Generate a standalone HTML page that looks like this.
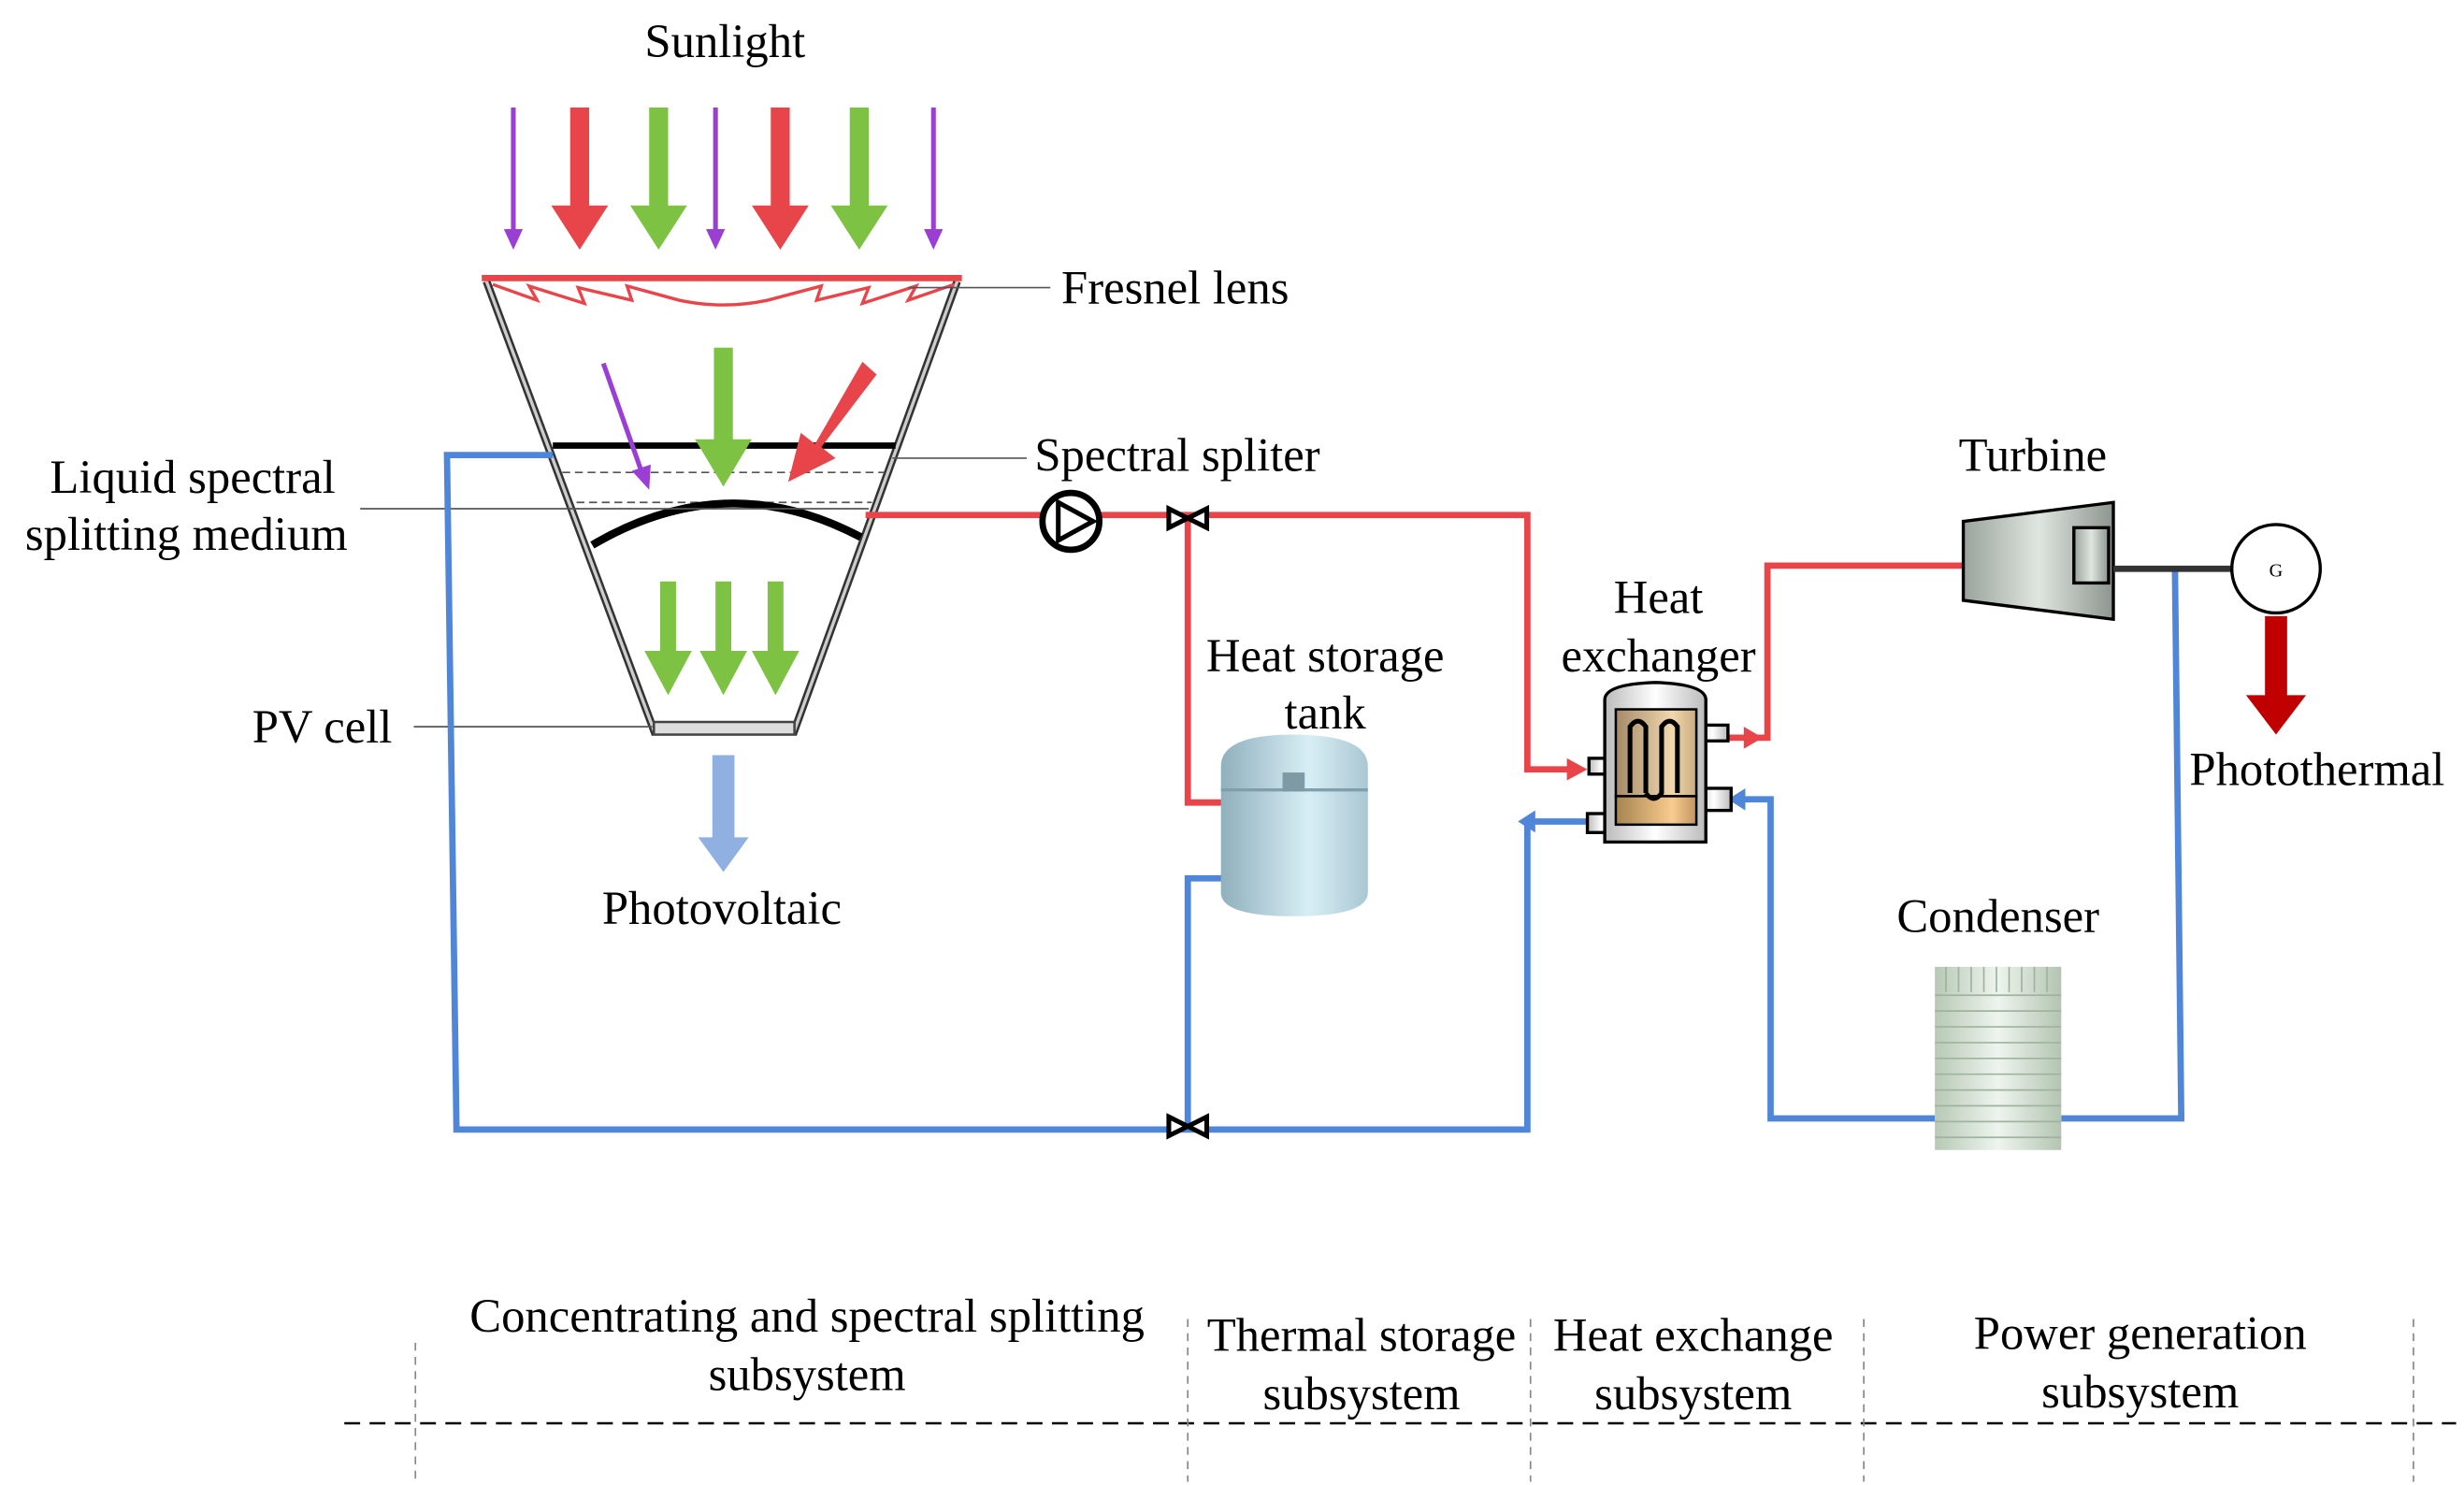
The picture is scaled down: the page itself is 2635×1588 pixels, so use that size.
<!DOCTYPE html>
<html><head><meta charset="utf-8"><style>
html,body{margin:0;padding:0;background:#fff}
svg{display:block}
text{font-family:"Liberation Serif",serif;fill:#000}
</style></head><body>
<svg width="2635" height="1588" viewBox="0 0 1560 940" xmlns="http://www.w3.org/2000/svg">
<defs>
<linearGradient id="tank" x1="0" x2="1"><stop offset="0" stop-color="#8fb0bd"/><stop offset="0.6" stop-color="#d8eef5"/><stop offset="1" stop-color="#a9c7d2"/></linearGradient>
<linearGradient id="turb" x1="0" x2="1"><stop offset="0" stop-color="#9aa39c"/><stop offset="0.5" stop-color="#dfe5df"/><stop offset="1" stop-color="#8d958f"/></linearGradient>
<linearGradient id="cond" x1="0" x2="1"><stop offset="0" stop-color="#b7c9b5"/><stop offset="0.5" stop-color="#eef4ee"/><stop offset="1" stop-color="#b3c5b1"/></linearGradient>
<linearGradient id="hx" x1="0" x2="1"><stop offset="0" stop-color="#a48a68"/><stop offset="0.7" stop-color="#f2d8ae"/><stop offset="1" stop-color="#c9ab80"/></linearGradient>
<linearGradient id="hxb" x1="0" x2="1"><stop offset="0" stop-color="#a6834f"/><stop offset="0.7" stop-color="#f9cc8e"/><stop offset="1" stop-color="#c09662"/></linearGradient>
<linearGradient id="grey" x1="0" x2="1"><stop offset="0" stop-color="#bbb"/><stop offset="0.5" stop-color="#fff"/><stop offset="1" stop-color="#bbb"/></linearGradient>
</defs>

<text x="459" y="36" font-size="30" text-anchor="middle">Sunlight</text>
<g>
<path d="M325,68V148" stroke="#9b3fd4" stroke-width="3"/><path d="M319,145L325,158L331,145z" fill="#9b3fd4"/>
<path d="M453,68V148" stroke="#9b3fd4" stroke-width="3"/><path d="M447,145L453,158L459,145z" fill="#9b3fd4"/>
<path d="M591,68V148" stroke="#9b3fd4" stroke-width="3"/><path d="M585,145L591,158L597,145z" fill="#9b3fd4"/>
<path d="M361,68h12v62h12l-18,28l-18,-28h12z" fill="#e8454a"/>
<path d="M488,68h12v62h12l-18,28l-18,-28h12z" fill="#e8454a"/>
<path d="M411,68h12v62h12l-18,28l-18,-28h12z" fill="#7dc242"/>
<path d="M538,68h12v62h12l-18,28l-18,-28h12z" fill="#7dc242"/>
</g>
<path d="M308,178L415,465M606,178L502,465" stroke="#333" stroke-width="5"/>
<path d="M308,178L415,465M606,178L502,465" stroke="#ccc" stroke-width="2"/>
<line x1="305" y1="176" x2="609" y2="176" stroke="#e8454a" stroke-width="4"/>
<path d="M312,180L340,190L335,181L370,192L366,182L400,190L397,181L430,190Q458,196 486,190L520,181L517,190L550,182L546,192L580,181L575,190L604,180" fill="none" stroke="#e8454a" stroke-width="2"/>
<line x1="575" y1="182" x2="665" y2="182" stroke="#555" stroke-width="1"/>
<text x="672" y="192" font-size="30">Fresnel lens</text>
<line x1="350" y1="282" x2="567" y2="282" stroke="#000" stroke-width="4"/>
<line x1="356" y1="299" x2="560" y2="299" stroke="#555" stroke-width="1" stroke-dasharray="5,3"/>
<line x1="365" y1="318" x2="552" y2="318" stroke="#555" stroke-width="1" stroke-dasharray="5,3"/>
<path d="M375,345Q460,295 545,340" fill="none" stroke="#000" stroke-width="5"/>
<line x1="565" y1="290" x2="650" y2="290" stroke="#555" stroke-width="1"/>
<text x="655" y="298" font-size="30">Spectral spliter</text>
<line x1="228" y1="322" x2="550" y2="322" stroke="#555" stroke-width="1"/>
<text x="122" y="312" font-size="30" text-anchor="middle">Liquid spectral</text>
<text x="118" y="348" font-size="30" text-anchor="middle">splitting medium</text>
<path d="M382,230L406,298" stroke="#9b3fd4" stroke-width="3"/><path d="M400,298L411,310L412,294z" fill="#9b3fd4"/>
<path d="M452,220h12v58h12l-18,30l-18,-30h12z" fill="#7dc242"/>
<path d="M546,229l9,8l-35,46l9,7l-30,15l8,-31l9,7z" fill="#e8454a"/>
<path d="M418,368h10v44h10l-15,28l-15,-28h10z" fill="#7dc242"/>
<path d="M453,368h10v44h10l-15,28l-15,-28h10z" fill="#7dc242"/>
<path d="M486,368h10v44h10l-15,28l-15,-28h10z" fill="#7dc242"/>
<rect x="414" y="457" width="89" height="8" fill="#ddd" stroke="#444" stroke-width="1.5"/>
<line x1="262" y1="460" x2="413" y2="460" stroke="#555" stroke-width="1"/>
<text x="204" y="470" font-size="30" text-anchor="middle">PV cell</text>
<path d="M451,478h14v52h9l-16,22l-16,-22h9z" fill="#8fb0e0"/>
<text x="457" y="585" font-size="30" text-anchor="middle">Photovoltaic</text>

<g fill="none" stroke="#e8454a" stroke-width="4">
<path d="M548,326H967V487H1000"/>
<path d="M752,328V508H790"/>
<path d="M1093,467H1119V358H1243"/>
</g>
<path d="M992,480L1005,487L992,494z" fill="#e8454a"/>
<path d="M1104,460L1116,467L1104,474z" fill="#e8454a"/>
<g fill="none" stroke="#4f86d9" stroke-width="4">
<path d="M350,288H283L289,715H967V520H1008"/>
<path d="M752,715V556H790"/>
<path d="M1097,506H1121V708H1225"/>
<path d="M1305,708H1381L1377,360"/>
</g>
<path d="M972,513L961,520L972,527z" fill="#4f86d9"/>
<path d="M1105,499L1094,506L1105,513z" fill="#4f86d9"/>
<circle cx="678" cy="330" r="18" fill="#fff" stroke="#000" stroke-width="4"/>
<path d="M670,318L692,330L670,342z" fill="#fff" stroke="#000" stroke-width="3"/>
<path d="M740,322L764,334V322L740,334z" fill="#fff" stroke="#000" stroke-width="3"/>
<path d="M740,707L764,719V707L740,719z" fill="#fff" stroke="#000" stroke-width="3"/>
<text x="839" y="425" font-size="30" text-anchor="middle">Heat storage</text>
<text x="839" y="461" font-size="30" text-anchor="middle">tank</text>
<path d="M773,485Q773,465 819,465Q866,465 866,485V565Q866,580 819,580Q773,580 773,565z" fill="url(#tank)"/>
<path d="M773,500H866" stroke="#7f9fac" stroke-width="2"/>
<rect x="812" y="489" width="14" height="12" fill="#7d9aa5"/>
<text x="1050" y="388" font-size="30" text-anchor="middle">Heat</text>
<text x="1050" y="425" font-size="30" text-anchor="middle">exchanger</text>
<rect x="1006" y="480" width="16" height="10" fill="url(#grey)" stroke="#000" stroke-width="2"/>
<rect x="1005" y="515" width="18" height="12" fill="url(#grey)" stroke="#000" stroke-width="2"/>
<rect x="1074" y="459" width="20" height="10" fill="url(#grey)" stroke="#000" stroke-width="2"/>
<rect x="1074" y="499" width="22" height="14" fill="url(#grey)" stroke="#000" stroke-width="2"/>
<path d="M1016,443Q1016,433 1048,432Q1080,433 1080,443V533H1016z" fill="url(#grey)" stroke="#000" stroke-width="2"/>
<rect x="1023" y="449" width="51" height="55" fill="url(#hx)" stroke="#000" stroke-width="1.5"/>
<rect x="1023" y="504" width="51" height="18" fill="url(#hxb)" stroke="#000" stroke-width="1.5"/>
<path d="M1032,502V460Q1037,453 1042,460V502M1042,502Q1047,509 1052,502V460Q1057,453 1062,460V502" fill="none" stroke="#000" stroke-width="3"/>
<text x="1287" y="298" font-size="30" text-anchor="middle">Turbine</text>
<path d="M1243,330L1338,318V392L1243,380z" fill="url(#turb)" stroke="#000" stroke-width="2"/>
<rect x="1313" y="334" width="22" height="35" fill="url(#turb)" stroke="#000" stroke-width="2"/>
<line x1="1338" y1="360" x2="1413" y2="360" stroke="#333" stroke-width="4"/>
<circle cx="1441" cy="360" r="28" fill="#fff" stroke="#000" stroke-width="2"/>
<text x="1441" y="365" font-size="12" text-anchor="middle" font-family="Liberation Sans,sans-serif">G</text>
<path d="M1434,390h14v50h12l-19,25l-19,-25h12z" fill="#c00000"/>
<text x="1467" y="497" font-size="30" text-anchor="middle">Photothermal</text>
<text x="1265" y="590" font-size="30" text-anchor="middle">Condenser</text>
<rect x="1225" y="612" width="80" height="116" fill="url(#cond)"/>
<g stroke="#9fb39e" stroke-width="1">
<path d="M1225,630H1305M1225,640H1305M1225,650H1305M1225,660H1305M1225,670H1305M1225,680H1305M1225,690H1305M1225,700H1305M1225,710H1305M1225,720H1305"/>
<path d="M1232,612V628M1240,612V628M1248,612V628M1256,612V628M1264,612V628M1272,612V628M1280,612V628M1288,612V628M1296,612V628"/>
</g>
<line x1="218" y1="901" x2="1555" y2="901" stroke="#000" stroke-width="1.5" stroke-dasharray="10,6"/>
<g stroke="#888" stroke-width="1" stroke-dasharray="5,4">
<path d="M263,850V938M752,835V938M969,835V938M1180,835V938M1528,835V938"/>
</g>
<text x="511" y="843" font-size="30" text-anchor="middle">Concentrating and spectral splitting</text>
<text x="511" y="880" font-size="30" text-anchor="middle">subsystem</text>
<text x="862" y="855" font-size="30" text-anchor="middle">Thermal storage</text>
<text x="862" y="892" font-size="30" text-anchor="middle">subsystem</text>
<text x="1072" y="855" font-size="30" text-anchor="middle">Heat exchange</text>
<text x="1072" y="892" font-size="30" text-anchor="middle">subsystem</text>
<text x="1355" y="854" font-size="30" text-anchor="middle">Power generation</text>
<text x="1355" y="891" font-size="30" text-anchor="middle">subsystem</text>
</svg>
</body></html>
